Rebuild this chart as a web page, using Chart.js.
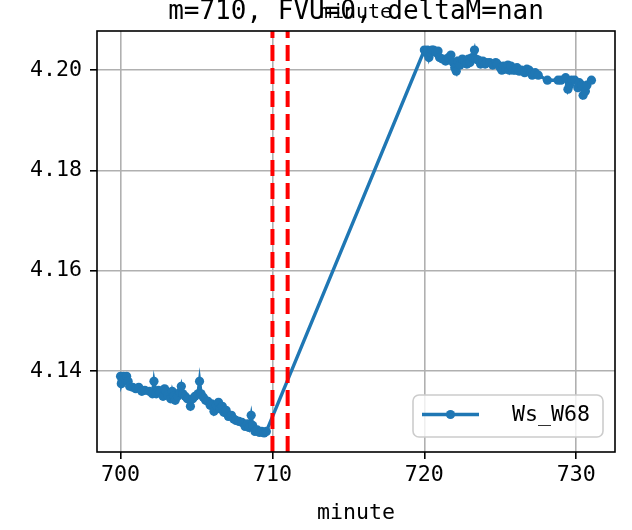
<!DOCTYPE html>
<html><head><meta charset="utf-8">
<script src="https://cdn.jsdelivr.net/npm/chart.js@4/dist/chart.umd.min.js"></script>
<style>html,body{margin:0;padding:0;background:#fff;}</style>
</head><body>
<canvas id="c" width="632" height="530"></canvas>
<script>
// ---- data ----
const minutes = [
  700.0,700.05,700.1,700.2,700.3,700.4,700.5,700.6,700.8,701.0,701.2,701.4,701.6,701.9,
  702.1,702.2,702.35,702.5,702.6,702.8,702.9,703.0,703.1,703.3,703.4,703.5,703.6,703.75,703.9,
  704.0,704.1,704.25,704.4,704.6,704.75,704.9,705.1,705.2,705.3,705.45,705.6,705.75,705.9,
  706.0,706.15,706.3,706.45,706.55,706.7,706.8,706.95,707.1,707.3,707.45,707.6,707.8,
  708.0,708.2,708.35,708.45,708.6,708.7,708.85,709.0,709.15,709.3,709.45,709.6,
  720.0,720.1,720.2,720.3,720.4,720.5,720.6,720.75,720.9,721.0,721.2,721.4,721.6,721.75,721.9,
  722.0,722.1,722.2,722.35,722.5,722.65,722.8,722.9,723.0,723.15,723.3,723.4,723.55,723.7,723.85,
  724.0,724.1,724.3,724.5,724.7,724.8,725.0,725.1,725.2,725.35,725.5,725.6,725.7,725.85,
  726.0,726.1,726.25,726.4,726.6,726.75,726.9,727.0,727.1,727.3,727.5,728.1,728.8,729.0,
  729.3,729.45,729.55,729.7,729.9,730.1,730.2,730.35,730.45,730.6,730.7,731.0
];
const values = [
  4.1390,4.1375,4.1380,4.1390,4.1385,4.1390,4.1380,4.1370,4.1368,4.1365,4.1368,4.1360,4.1362,4.1360,
  4.1355,4.1380,4.1355,4.1362,4.1358,4.1350,4.1365,4.1360,4.1352,4.1345,4.1360,4.1350,4.1342,4.1350,4.1358,
  4.1370,4.1355,4.1350,4.1345,4.1330,4.1345,4.1350,4.1355,4.1380,4.1355,4.1348,4.1342,4.1340,4.1332,
  4.1335,4.1320,4.1332,4.1338,4.1325,4.1330,4.1318,4.1322,4.1310,4.1312,4.1305,4.1302,4.1300,
  4.1298,4.1290,4.1295,4.1288,4.1312,4.1292,4.1280,4.1283,4.1278,4.1280,4.1277,4.1280,
  4.2040,4.2035,4.2040,4.2025,4.2035,4.2040,4.2040,4.2035,4.2038,4.2025,4.2022,4.2018,4.2025,4.2030,4.2015,
  4.2005,4.1998,4.2018,4.2010,4.2022,4.2018,4.2012,4.2022,4.2015,4.2025,4.2040,4.2022,4.2020,4.2012,4.2018,
  4.2012,4.2015,4.2015,4.2010,4.2015,4.2012,4.2005,4.2000,4.2008,4.2002,4.2010,4.2000,4.2008,4.2000,
  4.2000,4.2005,4.1998,4.2000,4.1995,4.2002,4.2000,4.1995,4.1990,4.1995,4.1990,4.1980,4.1980,4.1980,
  4.1985,4.1962,4.1970,4.1980,4.1980,4.1965,4.1975,4.1970,4.1950,4.1958,4.1970,4.1980
];
const seriesLabel = 'Ws_W68';
const markerMinutes = [710, 711];
const xTicks = [700, 710, 720, 730];
const xTickLabels = ['700', '710', '720', '730'];
const yTicks = [4.14, 4.16, 4.18, 4.20];
const yTickLabels = ['4.14', '4.16', '4.18', '4.20'];
const titleText = 'm=710, FVU=0, deltaM=nan';
const overlayText = 'minute';
const axisTitle = 'minute';
const xRange = [698.45, 732.55];
const yRange = [4.1239, 4.2078];

// ---- styles ----
const FONT = "'DejaVu Sans Mono', 'Liberation Mono', monospace";
const BLUE = '#1f77b4';

const points = minutes.map((m, i) => ({ x: m, y: values[i] }));
const vlines = markerMinutes.map(m => ({
  label: 'v' + m,
  data: [{ x: m, y: yRange[0] }, { x: m, y: yRange[1] }],
  borderColor: '#ff0000', borderWidth: 4, borderDash: [16, 7],
  pointRadius: 0, pointHoverRadius: 0, order: 1, borderCapStyle: 'butt'
}));

const framePlugin = {
  id: 'frame',
  afterDatasetsDraw(chart) {
    const { ctx, chartArea: a } = chart;
    ctx.save();
    ctx.strokeStyle = '#000'; ctx.lineWidth = 1.6;
    ctx.strokeRect(a.left, a.top, a.right - a.left, a.bottom - a.top);
    ctx.restore();
  }
};

const overlayPlugin = {
  id: 'overlay',
  afterDraw(chart) {
    const { ctx, chartArea: a } = chart;
    ctx.save();
    ctx.fillStyle = '#000';
    ctx.font = "20px " + FONT;
    ctx.textAlign = 'center'; ctx.textBaseline = 'alphabetic';
    ctx.fillText(overlayText, (a.left + a.right) / 2, 17.5);
    ctx.restore();
  }
};

const legendPlugin = {
  id: 'insideLegend',
  afterDraw(chart) {
    const { ctx, chartArea: a } = chart;
    const w = 190, h = 42;
    const x = a.right - 12 - w, y = a.bottom - 15 - h;
    ctx.save();
    ctx.beginPath();
    ctx.roundRect(x, y, w, h, 6);
    ctx.fillStyle = 'rgba(255,255,255,0.8)'; ctx.fill();
    ctx.strokeStyle = '#cccccc'; ctx.lineWidth = 1.6; ctx.stroke();
    const ly = y + 19.5;
    ctx.strokeStyle = BLUE; ctx.lineWidth = 3.4;
    ctx.beginPath(); ctx.moveTo(x + 9, ly); ctx.lineTo(x + 66, ly); ctx.stroke();
    ctx.fillStyle = BLUE;
    ctx.beginPath(); ctx.arc(x + 37.5, ly, 4.6, 0, Math.PI * 2); ctx.fill();
    ctx.fillStyle = '#000';
    ctx.font = "21.6px " + FONT;
    ctx.textAlign = 'left'; ctx.textBaseline = 'middle';
    ctx.fillText(chart.data.datasets[0].label, x + 99, ly + 1);
    ctx.restore();
  }
};

new Chart(document.getElementById('c'), {
  type: 'line',
  data: {
    datasets: [{
      label: seriesLabel,
      data: points,
      borderColor: BLUE, backgroundColor: BLUE,
      borderWidth: 3.4, pointRadius: 4.6, pointBorderWidth: 0,
      pointBackgroundColor: BLUE, tension: 0, order: 2
    }, ...vlines]
  },
  options: {
    responsive: false, animation: false, devicePixelRatio: 1,
    layout: { padding: { left: 0, right: 17, top: 0, bottom: 0 } },
    plugins: {
      legend: { display: false },
      tooltip: { enabled: false },
      title: {
        display: true, text: titleText, color: '#000', fullSize: false,
        font: { family: FONT, size: 26, weight: 'normal', lineHeight: 1 },
        padding: { top: -1, bottom: 6 }
      }
    },
    scales: {
      x: {
        type: 'linear', min: xRange[0], max: xRange[1],
        afterBuildTicks: s => { s.ticks = xTicks.map(v => ({ value: v })); },
        afterFit: s => { s.height = 78; },
        ticks: {
          callback: (v, i) => xTickLabels[i], color: '#000',
          font: { family: FONT, size: 21.6 }, padding: 3, maxRotation: 0, autoSkip: false
        },
        grid: { color: '#b0b0b0', lineWidth: 1.6, tickColor: '#000', tickWidth: 1.6, tickLength: 7 },
        border: { display: false },
        title: { display: true, text: axisTitle, color: '#000', font: { family: FONT, size: 21.6 }, padding: { top: 0, bottom: 4 } }
      },
      y: {
        type: 'linear', min: yRange[0], max: yRange[1],
        afterBuildTicks: s => { s.ticks = yTicks.map(v => ({ value: v })); },
        afterFit: s => { s.width = 97; },
        ticks: {
          callback: (v, i) => yTickLabels[i], color: '#000',
          font: { family: FONT, size: 21.6 }, padding: 8, autoSkip: false
        },
        grid: { color: '#b0b0b0', lineWidth: 1.6, tickColor: '#000', tickWidth: 1.6, tickLength: 7 },
        border: { display: false }
      }
    }
  },
  plugins: [framePlugin, overlayPlugin, legendPlugin]
});
</script>
</body></html>
